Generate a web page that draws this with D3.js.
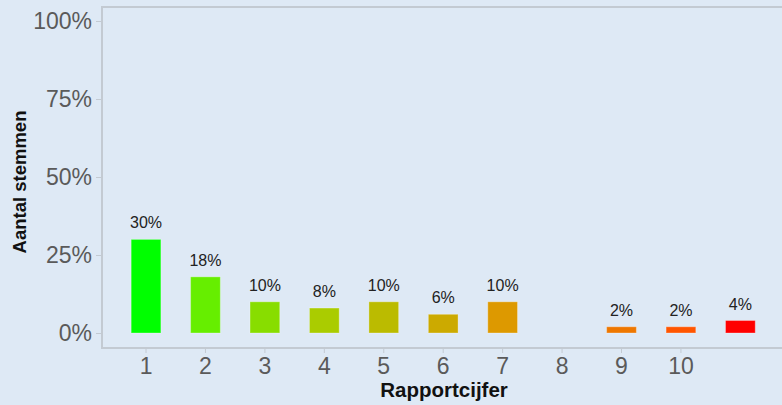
<!DOCTYPE html>
<html lang="nl">
<head>
<meta charset="UTF-8">
<title>Rapportcijfer</title>
<script src="https://d3js.org/d3.v7.min.js"></script>
<style>
  body { margin: 0; background: #dee9f5; }
  svg { display: block; font-family: Arial, "Liberation Sans", sans-serif; }
</style>
</head>
<body>
<div id="chart"></div>
<script>
// categories (last one has no tick label)
var categories = ["1", "2", "3", "4", "5", "6", "7", "8", "9", "10", ""];
var percentages = [30, 18, 10, 8, 10, 6, 10, 0, 2, 2, 4];
var barColors = ["#00ff00", "#66ee00", "#88dd00", "#aacc00", "#bbbb00", "#ccaa00",
                 "#dd9900", "#e88800", "#ee7700", "#ff5500", "#ff0000"];
var yTicks = [0, 25, 50, 75, 100];

var width = 782, height = 405;
// note: "top" is taken by window.top, so use plot* names
var plotLeft = 101, plotTop = 6, plotBottom = 348;
var axisColor = "#c3cad2";

var svg = d3.select("#chart").append("svg")
  .attr("width", width)
  .attr("height", height);

svg.append("rect")
  .attr("width", width).attr("height", height)
  .attr("fill", "#dee9f5");

// one row per category so index stays with the data
var rows = categories.map(function(c, i){
  return { key: i, label: c, value: percentages[i], color: barColors[i] };
});

var x = d3.scaleBand()
  .domain(rows.map(function(d){ return d.key; }))
  .range([116.3, 770.1])
  .paddingInner(0.5)
  .paddingOuter(0.25);

var y = d3.scaleLinear()
  .domain([0, 100])
  .range([333, 21]);

// y axis
var yAxis = svg.append("g")
  .attr("transform", "translate(" + plotLeft + ",0)")
  .call(d3.axisLeft(y).tickValues(yTicks).tickSize(5).tickPadding(4)
    .tickFormat(function(d){ return d + "%"; }));
yAxis.select(".domain").remove();
yAxis.selectAll(".tick line").attr("stroke", axisColor);
yAxis.selectAll("text")
  .attr("fill", "#5a5a5a")
  .style("font-size", "23px");

// x axis
var xAxis = svg.append("g")
  .attr("transform", "translate(0," + plotBottom + ")")
  .call(d3.axisBottom(x).tickSize(5).tickPadding(5)
    .tickFormat(function(d){ return categories[d]; }));
xAxis.select(".domain").remove();
xAxis.selectAll(".tick line").attr("stroke", axisColor);
xAxis.selectAll(".tick").filter(function(d){ return categories[d] === ""; })
  .select("line").remove();
xAxis.selectAll("text")
  .attr("fill", "#5a5a5a")
  .style("font-size", "23px");

// frame lines: top, left, bottom
svg.append("path")
  .attr("d", "M" + width + "," + (plotTop + 1) + "H" + (plotLeft + 1) + "V" + plotBottom + "H" + width)
  .attr("fill", "none")
  .attr("stroke", axisColor)
  .attr("stroke-width", 2);

// bars
svg.selectAll(".bar")
  .data(rows.filter(function(d){ return d.value > 0; }))
  .enter().append("rect")
  .attr("class", "bar")
  .attr("x", function(d){ return x(d.key); })
  .attr("y", function(d){ return y(d.value); })
  .attr("width", x.bandwidth())
  .attr("height", function(d){ return y(0) - y(d.value); })
  .attr("fill", function(d){ return d.color; })
  .attr("stroke", "rgba(255,255,255,0.3)")
  .attr("stroke-width", 1);

// value labels
svg.selectAll(".lbl")
  .data(rows.filter(function(d){ return d.value > 0; }))
  .enter().append("text")
  .attr("class", "lbl")
  .attr("x", function(d){ return x(d.key) + x.bandwidth() / 2; })
  .attr("y", function(d){ return y(d.value) - 11; })
  .attr("text-anchor", "middle")
  .attr("fill", "#222")
  .style("font-size", "16px")
  .text(function(d){ return d.value + "%"; });

// axis titles
svg.append("text")
  .attr("x", 444).attr("y", 397)
  .attr("text-anchor", "middle")
  .attr("fill", "#111")
  .style("font-size", "20.5px")
  .style("font-weight", "bold")
  .text("Rapportcijfer");

svg.append("text")
  .attr("transform", "translate(26,182) rotate(-90)")
  .attr("text-anchor", "middle")
  .attr("fill", "#111")
  .style("font-size", "18.5px")
  .style("font-weight", "bold")
  .text("Aantal stemmen");
</script>
</body>
</html>
